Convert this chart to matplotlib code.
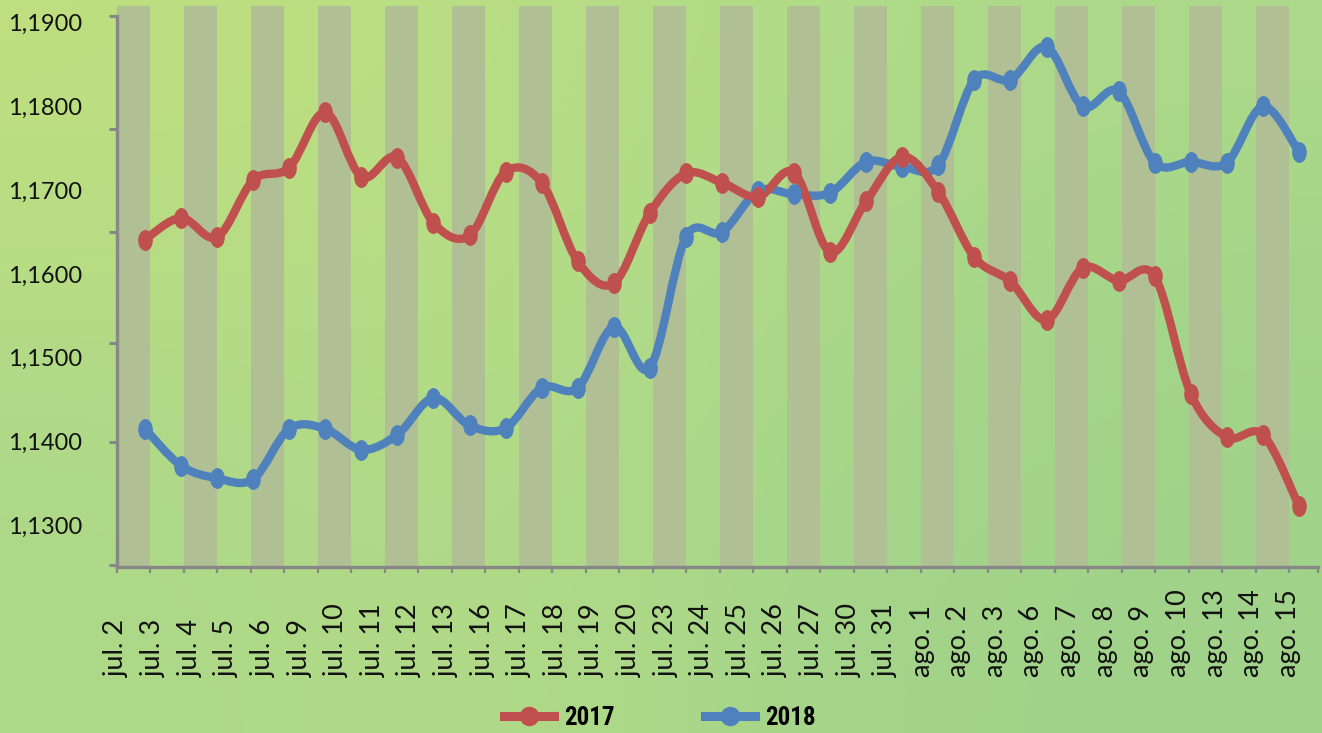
import numpy as np
import matplotlib
matplotlib.use("Agg")
import matplotlib.pyplot as plt
from matplotlib.path import Path
from matplotlib.patches import PathPatch
from matplotlib.lines import Line2D
from matplotlib.transforms import Affine2D
from matplotlib.colors import to_rgb

# daily EUR/USD quotes, same calendar window in both years
dates = ["jul. 2", "jul. 3", "jul. 4", "jul. 5", "jul. 6", "jul. 9", "jul. 10",
         "jul. 11", "jul. 12", "jul. 13", "jul. 16", "jul. 17", "jul. 18",
         "jul. 19", "jul. 20", "jul. 23", "jul. 24", "jul. 25", "jul. 26",
         "jul. 27", "jul. 30", "jul. 31", "ago. 1", "ago. 2", "ago. 3",
         "ago. 6", "ago. 7", "ago. 8", "ago. 9", "ago. 10", "ago. 13",
         "ago. 14", "ago. 15"]
eur_2017 = [1.1641, 1.1667, 1.1644, 1.1712, 1.1727, 1.1793, 1.1716, 1.1739,
            1.1661, 1.1646, 1.1722, 1.1709, 1.1615, 1.1589, 1.1673, 1.1720,
            1.1709, 1.1692, 1.1721, 1.1626, 1.1687, 1.1740, 1.1698, 1.1620,
            1.1591, 1.1545, 1.1607, 1.1592, 1.1597, 1.1457, 1.1405, 1.1408,
            1.1323]
eur_2018 = [1.1415, 1.1371, 1.1356, 1.1355, 1.1415, 1.1415, 1.1390, 1.1408,
            1.1452, 1.1419, 1.1416, 1.1464, 1.1464, 1.1537, 1.1488, 1.1644,
            1.1650, 1.1699, 1.1695, 1.1697, 1.1734, 1.1728, 1.1730, 1.1832,
            1.1832, 1.1871, 1.1800, 1.1818, 1.1733, 1.1734, 1.1733, 1.1800,
            1.1746]
y_ticks = [1.13, 1.14, 1.15, 1.16, 1.17, 1.18, 1.19]
y_labels = ["1,1300", "1,1400", "1,1500", "1,1600", "1,1700", "1,1800", "1,1900"]
axis_marks = [1.1252, 1.1399, 1.1518, 1.1650, 1.1773, 1.1908]
band_slots = list(range(36))

RED = "#c0504d"
BLUE = "#4f81bd"
GREY = "#878787"
BAND = "#b1bf95"

Y_MIN, Y_MAX = 1.125, 1.192

plt.rcParams["font.family"] = ["Lato", "DejaVu Sans"]

fig = plt.figure(figsize=(13.22, 7.33), dpi=100)

# soft green backdrop
corners = [["#bfdf7f", "#b9de84", "#b0db88", "#acd98a"],
           ["#b0da88", "#b4dc86", "#a8d78a", "#a0d38a"],
           ["#acd889", "#b3db86", "#a3d48a", "#a0d28a"]]
grid = np.array([[to_rgb(c) for c in row] for row in corners])
bg = fig.add_axes([0, 0, 1, 1], zorder=-1)
bg.imshow(grid, aspect="auto", interpolation="bicubic", extent=[0, 1, 0, 1])
bg.axis("off")

W, H = 1322, 733
left, right, top, bottom = 117, 1318, 6, 567
ax = fig.add_axes([left / W, 1 - bottom / H, (right - left) / W, (bottom - top) / H])
ax.set_facecolor("none")

# alternating column bands behind the lines
x_end = (right - left) / 33.49
ax.bar([k for k in band_slots if k % 2 == 0], Y_MAX - Y_MIN, bottom=Y_MIN,
       width=1, align="edge", color=BAND, linewidth=0)
ax.set_xlim(0, x_end)
ax.set_ylim(Y_MIN, Y_MAX)

for s in ["top", "right"]:
    ax.spines[s].set_visible(False)
for s in ["left", "bottom"]:
    ax.spines[s].set_color(GREY)
    ax.spines[s].set_linewidth(2.4)
ax.spines["left"].set_bounds(Y_MIN, 1.1908)

ax.set_xticks(list(band_slots) + [x_end])
ax.tick_params(axis="x", length=4, width=1.6, color=GREY, labelbottom=False)
ax.set_yticks(y_ticks, y_labels)
ax.set_yticks(axis_marks, minor=True)
ax.tick_params(axis="y", which="major", length=0, pad=25, labelsize=17,
               labelcolor="#111111")
ax.tick_params(axis="y", which="minor", length=6, width=2.2, color=GREY)

# lines on their own x scale
ax2 = ax.twiny()
ax2.xaxis.tick_bottom()
for s in ax2.spines.values():
    s.set_visible(False)
n = len(dates)
x0 = (left - 145) / 36.06
ax2.set_xlim(x0, x0 + (right - left) / 36.06)
xs = np.arange(n)


def smooth_path(x, y):
    pts = np.column_stack([x, y])
    verts = [pts[0]]
    codes = [Path.MOVETO]
    for i in range(len(pts) - 1):
        p0 = pts[i - 1] if i > 0 else pts[i]
        p1, p2 = pts[i], pts[i + 1]
        p3 = pts[i + 2] if i + 2 < len(pts) else pts[i + 1]
        verts += [p1 + (p2 - p0) / 6, p2 - (p3 - p1) / 6, p2]
        codes += [Path.CURVE4] * 3
    return Path(verts, codes)


dot = Path.unit_circle().transformed(Affine2D().scale(0.68, 1.0))

for vals, color in [(eur_2018, BLUE), (eur_2017, RED)]:
    ax2.add_patch(PathPatch(smooth_path(xs, vals), facecolor="none",
                            edgecolor=color, lw=6, capstyle="round",
                            joinstyle="round"))
    ax2.plot(xs, vals, linestyle="none", marker=dot, markersize=14,
             color=color)

label_pos = x0 + np.arange(n) * 36.6 / 36.06
ax2.set_xticks(label_pos, dates)
ax2.tick_params(axis="x", length=0, pad=79, labelsize=19.5, labelrotation=90,
                labelcolor="#111111")
plt.setp(ax2.get_xticklabels(), va="bottom", ha="center")

handles = [Line2D([], [], color=RED, lw=6.5, marker="o", markersize=13),
           Line2D([], [], color=BLUE, lw=6.5, marker="o", markersize=13)]
fig.legend(handles, ["2017", "2018"], loc="center",
           bbox_to_anchor=(660 / W, 1 - 718 / H), ncol=2, frameon=False,
           handlelength=2.0, handletextpad=0.4, columnspacing=3.6,
           prop={"family": ["Liberation Sans Narrow", "Roboto Condensed",
                            "DejaVu Sans Condensed", "Liberation Sans"],
                 "weight": "bold", "size": 18})

fig.savefig("out.png", dpi=100)
